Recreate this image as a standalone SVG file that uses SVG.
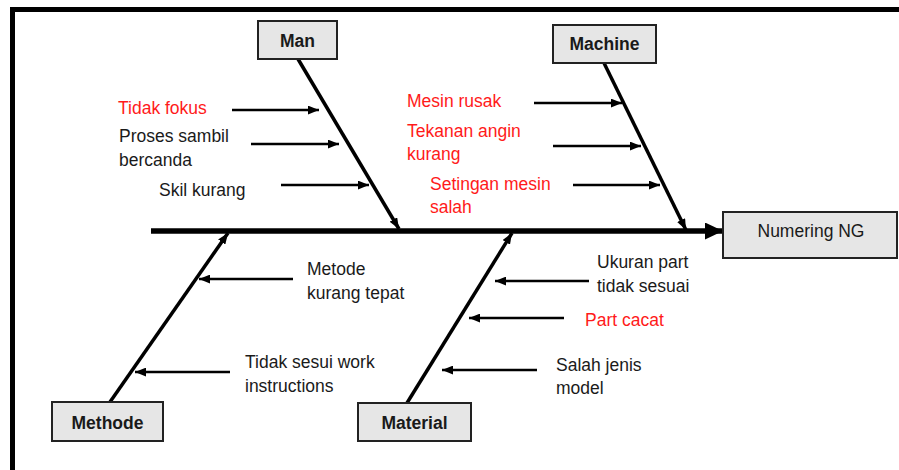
<svg xmlns="http://www.w3.org/2000/svg" width="899" height="470" viewBox="0 0 899 470">
<defs>
<style>
.t{font-family:"Liberation Sans",Arial,sans-serif;font-size:17.5px;fill:#1a1a1a}
.r{fill:#ff1a1a}
.b{font-weight:bold;text-anchor:middle}
.box{fill:#e6e6e6;stroke:#222;stroke-width:2}
.bone{stroke:#000;stroke-width:3.5;fill:none}
.sub{stroke:#000;stroke-width:2.5;fill:none}
</style>
<marker id="ah" viewBox="0 0 10 8" refX="10" refY="4" markerWidth="11" markerHeight="9" markerUnits="userSpaceOnUse" orient="auto">
<path d="M0 0L10 4L0 8Z" fill="#000"/>
</marker>
<marker id="ahb" viewBox="0 0 18 17" refX="18" refY="8.5" markerWidth="18" markerHeight="17" markerUnits="userSpaceOnUse" orient="auto">
<path d="M0 0L18 8.5L0 17Z" fill="#000"/>
</marker>
</defs>
<path d="M12.5 470V9.5H899" fill="none" stroke="#000" stroke-width="5"/>
<g id="connectors">
<path d="M151 231H723" stroke="#000" stroke-width="5.5" fill="none" marker-end="url(#ahb)"/>
<path class="bone" d="M298 59L399 229" marker-end="url(#ah)"/>
<path class="bone" d="M604 63L686 230" marker-end="url(#ah)"/>
<path class="bone" d="M110 402L228 233" marker-end="url(#ah)"/>
<path class="bone" d="M407 403L512 233" marker-end="url(#ah)"/>
<path class="sub" d="M232 110H319" marker-end="url(#ah)"/>
<path class="sub" d="M251 144H339" marker-end="url(#ah)"/>
<path class="sub" d="M281 185H369" marker-end="url(#ah)"/>
<path class="sub" d="M534 103H622" marker-end="url(#ah)"/>
<path class="sub" d="M553 146H641" marker-end="url(#ah)"/>
<path class="sub" d="M573 185H660" marker-end="url(#ah)"/>
<path class="sub" d="M293 279H199" marker-end="url(#ah)"/>
<path class="sub" d="M230 372H135" marker-end="url(#ah)"/>
<path class="sub" d="M589 281H495" marker-end="url(#ah)"/>
<path class="sub" d="M564 318H469" marker-end="url(#ah)"/>
<path class="sub" d="M537 370H442" marker-end="url(#ah)"/>
</g>
<g id="man"><rect class="box" x="258" y="21" width="79" height="38"/><text class="t b" x="297.5" y="47">Man</text></g>
<g id="machine"><rect class="box" x="553" y="25" width="103" height="38"/><text class="t b" x="604.5" y="50">Machine</text></g>
<g id="methode"><rect class="box" x="52" y="402" width="111" height="39"/><text class="t b" x="107.5" y="429">Methode</text></g>
<g id="material"><rect class="box" x="358" y="403" width="113" height="38"/><text class="t b" x="414.5" y="429">Material</text></g>
<g id="effect"><rect class="box" x="723" y="212" width="174" height="46"/><text class="t" x="811" y="237" text-anchor="middle">Numering NG</text></g>
<g id="man-causes">
<text class="t r" x="118" y="114">Tidak fokus</text>
<text class="t" x="119" y="142">Proses sambil</text>
<text class="t" x="119" y="166">bercanda</text>
<text class="t" x="159" y="196">Skil kurang</text>
</g>
<g id="machine-causes">
<text class="t r" x="407" y="107">Mesin rusak</text>
<text class="t r" x="407" y="137">Tekanan angin</text>
<text class="t r" x="407" y="160">kurang</text>
<text class="t r" x="430" y="190">Setingan mesin</text>
<text class="t r" x="430" y="213">salah</text>
</g>
<g id="methode-causes">
<text class="t" x="307" y="275">Metode</text>
<text class="t" x="307" y="299">kurang tepat</text>
<text class="t" x="245" y="368">Tidak sesui work</text>
<text class="t" x="245" y="392">instructions</text>
</g>
<g id="material-causes">
<text class="t" x="597" y="268">Ukuran part</text>
<text class="t" x="597" y="292">tidak sesuai</text>
<text class="t r" x="585" y="326">Part cacat</text>
<text class="t" x="556" y="371">Salah jenis</text>
<text class="t" x="556" y="394">model</text>
</g>
</svg>
